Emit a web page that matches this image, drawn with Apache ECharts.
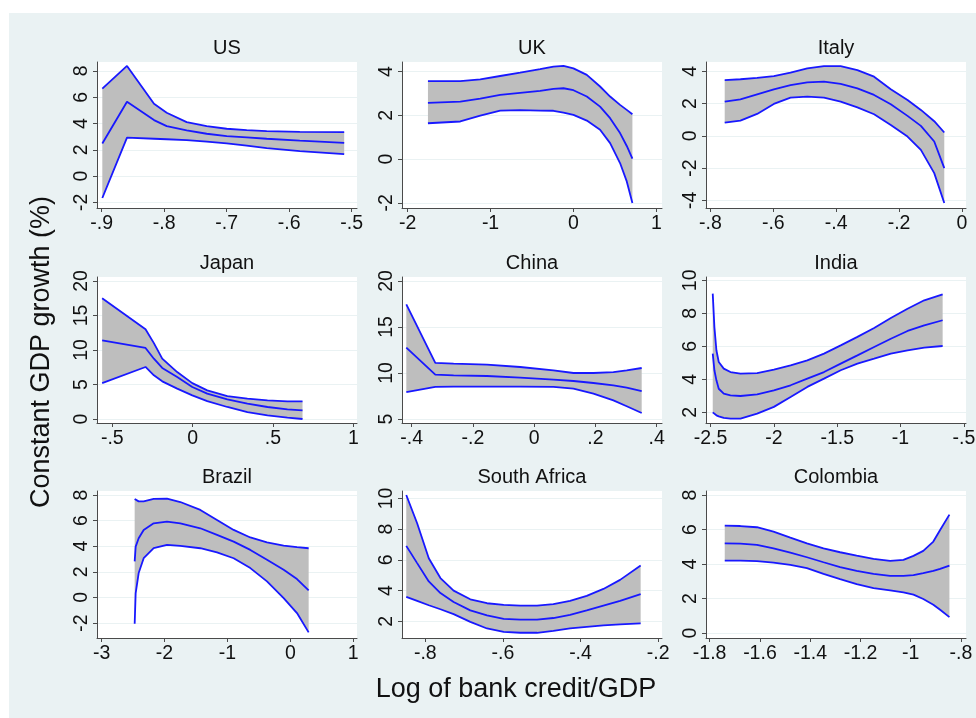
<!DOCTYPE html>
<html>
<head>
<meta charset="utf-8">
<title>Constant GDP growth vs log of bank credit/GDP</title>
<script src="https://cdn.jsdelivr.net/npm/echarts@6/dist/echarts.min.js"></script>
<style>
  html, body { margin: 0; padding: 0; background: #ffffff; }
  #frame { position: absolute; left: 9px; top: 13px; width: 967px; height: 705px; background: #eaf2f3; }
  #chart { position: absolute; left: 0; top: 0; width: 976px; height: 718px; }
</style>
</head>
<body>
<div id="frame"></div>
<div id="chart"></div>
<script>
// ---- Data: local fit (middle) with confidence band (low / high) per country ----
const usX    = [-0.899, -0.8595, -0.8163, -0.796, -0.764, -0.732, -0.70, -0.668, -0.636, -0.583, -0.512];
const usHigh = [6.65, 8.38, 5.5, 4.82, 4.1, 3.8, 3.6, 3.5, 3.42, 3.37, 3.35];
const usMid  = [2.48, 5.65, 4.26, 3.8, 3.47, 3.22, 3.04, 2.94, 2.84, 2.69, 2.53];
const usLow  = [-1.67, 2.92, 2.84, 2.8, 2.74, 2.62, 2.48, 2.31, 2.13, 1.9, 1.67];
const usXTicks = [-0.9, -0.8, -0.7, -0.6, -0.5];
const usYTicks = [-2, 0, 2, 4, 6, 8];

const ukX    = [-1.755, -1.365, -1.124, -0.884, -0.643, -0.402, -0.241, -0.12, 0, 0.161, 0.321, 0.442, 0.562, 0.643, 0.711];
const ukHigh = [3.57, 3.57, 3.65, 3.80, 3.95, 4.11, 4.23, 4.26, 4.15, 3.85, 3.32, 2.86, 2.48, 2.25, 2.05];
const ukMid  = [2.57, 2.63, 2.77, 2.94, 3.03, 3.12, 3.21, 3.24, 3.15, 2.86, 2.4, 1.87, 1.19, 0.6, 0.02];
const ukLow  = [1.64, 1.72, 1.99, 2.22, 2.24, 2.22, 2.21, 2.13, 2.02, 1.76, 1.34, 0.73, -0.18, -1.02, -2.01];
const ukXTicks = [-2, -1, 0, 1];
const ukYTicks = [-2, 0, 2, 4];

const itX    = [-0.7545, -0.7046, -0.6514, -0.5983, -0.5452, -0.492, -0.4389, -0.3858, -0.3326, -0.2795, -0.2264, -0.1732, -0.1307, -0.0882, -0.0563];
const itHigh = [3.46, 3.51, 3.59, 3.71, 3.92, 4.19, 4.33, 4.33, 4.08, 3.67, 2.89, 2.23, 1.61, 0.91, 0.21];
const itMid  = [2.12, 2.27, 2.58, 2.89, 3.15, 3.32, 3.36, 3.22, 2.95, 2.54, 1.96, 1.24, 0.62, -0.35, -2.0];
const itLow  = [0.82, 0.95, 1.36, 1.98, 2.37, 2.43, 2.37, 2.12, 1.77, 1.34, 0.68, -0.04, -0.87, -2.31, -4.16];
const itXTicks = [-0.8, -0.6, -0.4, -0.2, 0];
const itYTicks = [-4, -2, 0, 2, 4];

const jpX    = [-0.563, -0.293, -0.241, -0.189, -0.096, -0.002, 0.091, 0.216, 0.341, 0.466, 0.59, 0.684];
const jpHigh = [17.5, 13.0, 11.0, 8.74, 6.8, 5.2, 4.15, 3.33, 2.95, 2.7, 2.56, 2.56];
const jpMid  = [11.4, 10.3, 8.74, 7.4, 6.09, 4.64, 3.67, 2.85, 2.22, 1.74, 1.4, 1.26];
const jpLow  = [5.2, 7.54, 6.33, 5.46, 4.4, 3.43, 2.6, 1.74, 1.01, 0.53, 0.19, 0.0];
const jpXTicks = [-0.5, 0, 0.5, 1];
const jpYTicks = [0, 5, 10, 15, 20];

const cnX    = [-0.4174, -0.3228, -0.263, -0.1543, -0.0457, 0.063, 0.1283, 0.1935, 0.2587, 0.3022, 0.3511];
const cnHigh = [17.46, 11.09, 11.01, 10.9, 10.65, 10.29, 10.0, 10.0, 10.1, 10.29, 10.54];
const cnMid  = [12.75, 9.82, 9.75, 9.67, 9.49, 9.28, 9.13, 8.91, 8.66, 8.4, 8.04];
const cnLow  = [7.93, 8.48, 8.51, 8.51, 8.51, 8.48, 8.3, 7.75, 7.03, 6.38, 5.65];
const cnXTicks = [-0.4, -0.2, 0, 0.2, 0.4];
const cnYTicks = [5, 10, 15, 20];

const inX    = [-2.4828, -2.4697, -2.4538, -2.4354, -2.3958, -2.343, -2.2639, -2.1319, -2, -1.8681, -1.7361, -1.6042, -1.4723, -1.3404, -1.2084, -1.0765, -0.9446, -0.8127, -0.6675];
const inHigh = [9.19, 7.17, 5.76, 5.05, 4.65, 4.44, 4.34, 4.38, 4.59, 4.85, 5.15, 5.56, 6.06, 6.57, 7.11, 7.72, 8.28, 8.79, 9.15];
const inMid  = [5.56, 4.55, 3.94, 3.43, 3.13, 3.03, 2.99, 3.09, 3.33, 3.64, 4.04, 4.44, 4.95, 5.45, 5.96, 6.46, 6.93, 7.27, 7.58];
const inLow  = [2.0, 1.92, 1.82, 1.76, 1.66, 1.62, 1.62, 1.92, 2.33, 2.93, 3.54, 4.04, 4.55, 4.95, 5.25, 5.56, 5.76, 5.92, 6.02];
const inXTicks = [-2.5, -2, -1.5, -1, -0.5];
const inYTicks = [2, 4, 6, 8, 10];

const brX    = [-2.4742, -2.4583, -2.4106, -2.3311, -2.1722, -1.9603, -1.7483, -1.4305, -1.1656, -0.9007, -0.6358, -0.3709, -0.106, 0.106, 0.2914];
const brHigh = [7.69, 7.6, 7.5, 7.5, 7.69, 7.71, 7.45, 6.83, 6.05, 5.27, 4.68, 4.29, 4.05, 3.92, 3.84];
const brMid  = [2.81, 3.97, 4.62, 5.27, 5.79, 5.92, 5.79, 5.4, 4.88, 4.36, 3.71, 2.94, 2.16, 1.43, 0.55];
const brLow  = [-2.05, 0.34, 1.9, 3.06, 3.84, 4.1, 4.03, 3.84, 3.51, 3.06, 2.29, 1.25, -0.05, -1.22, -2.73];
const brXTicks = [-3, -2, -1, 0, 1];
const brYTicks = [-2, 0, 2, 4, 6, 8];

const saX    = [-0.849, -0.821, -0.791, -0.761, -0.727, -0.684, -0.641, -0.598, -0.555, -0.512, -0.47, -0.427, -0.384, -0.341, -0.298, -0.245];
const saHigh = [10.22, 8.38, 6.11, 4.82, 4.0, 3.44, 3.18, 3.07, 3.03, 3.03, 3.12, 3.33, 3.66, 4.11, 4.7, 5.63];
const saMid  = [6.91, 5.79, 4.6, 3.84, 3.26, 2.72, 2.39, 2.17, 2.11, 2.11, 2.22, 2.43, 2.72, 3.03, 3.33, 3.77];
const saLow  = [3.6, 3.34, 3.05, 2.79, 2.47, 1.97, 1.54, 1.32, 1.26, 1.26, 1.39, 1.54, 1.65, 1.74, 1.8, 1.87];
const saXTicks = [-0.8, -0.6, -0.4, -0.2];
const saYTicks = [2, 4, 6, 8, 10];

const coX    = [-1.74, -1.678, -1.612, -1.546, -1.479, -1.413, -1.347, -1.281, -1.215, -1.148, -1.082, -1.029, -0.989, -0.95, -0.91, -0.883, -0.846];
const coHigh = [6.22, 6.2, 6.13, 5.88, 5.53, 5.2, 4.91, 4.68, 4.49, 4.3, 4.18, 4.24, 4.47, 4.76, 5.3, 5.97, 6.86];
const coMid  = [5.2, 5.18, 5.11, 4.91, 4.66, 4.39, 4.1, 3.82, 3.6, 3.43, 3.31, 3.31, 3.35, 3.47, 3.6, 3.72, 3.91];
const coLow  = [4.2, 4.2, 4.16, 4.08, 3.95, 3.76, 3.43, 3.12, 2.83, 2.6, 2.47, 2.35, 2.22, 1.97, 1.64, 1.35, 0.92];
const coXTicks = [-1.8, -1.6, -1.4, -1.2, -1, -0.8];
const coYTicks = [0, 2, 4, 6, 8];

const yAxisTitle = 'Constant GDP growth (%)';
const xAxisTitle = 'Log of bank credit/GDP';

// ---- Panels (axis extents include the plot-region margins) ----
const panels = [
  { name: 'US',           x: usX, lo: usLow, mid: usMid, hi: usHigh, xt: usXTicks, yt: usYTicks, xr: [-0.9075, -0.4915], yr: [-2.43, 8.68] },
  { name: 'UK',           x: ukX, lo: ukLow, mid: ukMid, hi: ukHigh, xt: ukXTicks, yt: ukYTicks, xr: [-2.068, 1.068],    yr: [-2.236, 4.44] },
  { name: 'Italy',        x: itX, lo: itLow, mid: itMid, hi: itHigh, xt: itXTicks, yt: itYTicks, xr: [-0.814, 0.0128],   yr: [-4.47, 4.58] },
  { name: 'Japan',        x: jpX, lo: jpLow, mid: jpMid, hi: jpHigh, xt: jpXTicks, yt: jpYTicks, xr: [-0.595, 1.023],    yr: [-0.58, 20.58] },
  { name: 'China',        x: cnX, lo: cnLow, mid: cnMid, hi: cnHigh, xt: cnXTicks, yt: cnYTicks, xr: [-0.4315, 0.4174],  yr: [4.565, 20.43] },
  { name: 'India',        x: inX, lo: inLow, mid: inMid, hi: inHigh, xt: inXTicks, yt: inYTicks, xr: [-2.536, -0.483],   yr: [1.354, 10.2] },
  { name: 'Brazil',       x: brX, lo: brLow, mid: brMid, hi: brHigh, xt: brXTicks, yt: brYTicks, xr: [-3.073, 1.06],     yr: [-3.17, 8.31] },
  { name: 'South Africa', x: saX, lo: saLow, mid: saMid, hi: saHigh, xt: saXTicks, yt: saYTicks, xr: [-0.86, -0.19],     yr: [0.92, 10.48] },
  { name: 'Colombia',     x: coX, lo: coLow, mid: coMid, hi: coHigh, xt: coXTicks, yt: coYTicks, xr: [-1.8146, -0.78],  yr: [-0.29, 8.23] }
];

// ---- Layout & style ----
const colLeft = [97, 402, 706];
const colWidth = 260;
const rowTop = [62, 277, 491];
const rowHeight = [146, 146, 147];
const FONT = "'Liberation Sans', Arial, Helvetica, sans-serif";
const AXIS_COLOR = '#4a4a4a';
const TEXT_COLOR = '#111111';
const GRID_COLOR = '#eaf2f3';
const BAND_FILL = '#bebebe';
const LINE_BLUE = '#1818ff';

// Stata-style numbers: drop the leading zero ("-.5", ".2")
function fmt(v) {
  const s = String(Math.round(v * 100) / 100);
  return s.replace(/^(-?)0\./, '$1.');
}

const grids = [], xAxes = [], yAxes = [], series = [], graphics = [];

panels.forEach((p, i) => {
  const c = i % 3, r = Math.floor(i / 3);
  grids.push({
    left: colLeft[c], top: rowTop[r], width: colWidth, height: rowHeight[r],
    show: true, backgroundColor: '#ffffff', borderWidth: 0,
    containLabel: false, outerBoundsMode: 'none'
  });
  xAxes.push({
    type: 'value', gridIndex: i, min: p.xr[0], max: p.xr[1],
    axisLine: { show: true, onZero: false, lineStyle: { color: AXIS_COLOR, width: 1 } },
    axisTick: { show: true, customValues: p.xt, length: 4, lineStyle: { color: AXIS_COLOR, width: 1 } },
    axisLabel: { show: true, customValues: p.xt, formatter: fmt, margin: 6,
                 fontSize: 19.5, fontFamily: FONT, color: TEXT_COLOR, hideOverlap: false },
    splitLine: { show: false }
  });
  yAxes.push({
    type: 'value', gridIndex: i, min: p.yr[0], max: p.yr[1],
    axisLine: { show: true, onZero: false, lineStyle: { color: AXIS_COLOR, width: 1 } },
    axisTick: { show: true, customValues: p.yt, length: 4, lineStyle: { color: AXIS_COLOR, width: 1 } },
    axisLabel: { show: true, customValues: p.yt, formatter: fmt, rotate: 90, margin: 5,
                 fontSize: 19.5, fontFamily: FONT, color: TEXT_COLOR, hideOverlap: false },
    splitLine: { show: true, lineStyle: { color: GRID_COLOR, width: 1 } }
  });

  // confidence band: polygon along the upper bound and back along the lower bound
  series.push({
    type: 'custom', xAxisIndex: i, yAxisIndex: i, silent: true, z: 1,
    data: [[p.x[0], p.lo[0]]],
    renderItem: (params, api) => {
      const top = p.x.map((x, k) => api.coord([x, p.hi[k]]));
      const bottom = p.x.map((x, k) => api.coord([x, p.lo[k]])).reverse();
      return { type: 'polygon', shape: { points: top.concat(bottom) }, style: { fill: BAND_FILL } };
    }
  });
  [p.lo, p.mid, p.hi].forEach(vals => {
    series.push({
      type: 'line', xAxisIndex: i, yAxisIndex: i, silent: true, z: 2,
      data: p.x.map((x, k) => [x, vals[k]]),
      showSymbol: false, symbol: 'none', smooth: false,
      lineStyle: { color: LINE_BLUE, width: 1.8 }
    });
  });

  graphics.push({
    type: 'text', x: colLeft[c] + colWidth / 2, y: rowTop[r] - 14,
    style: { text: p.name, font: '20px ' + FONT, fill: TEXT_COLOR,
             align: 'center', verticalAlign: 'middle', textAlign: 'center', textVerticalAlign: 'middle' }
  });
});

graphics.push({
  type: 'text', x: 42, y: 352, rotation: Math.PI / 2,
  style: { text: yAxisTitle, font: '27px ' + FONT, fill: TEXT_COLOR,
           align: 'center', verticalAlign: 'middle', textAlign: 'center', textVerticalAlign: 'middle' }
});
graphics.push({
  type: 'text', x: 516, y: 690,
  style: { text: xAxisTitle, font: '27px ' + FONT, fill: TEXT_COLOR,
           align: 'center', verticalAlign: 'middle', textAlign: 'center', textVerticalAlign: 'middle' }
});

const chart = echarts.init(document.getElementById('chart'), null, { renderer: 'canvas' });
chart.setOption({
  backgroundColor: 'transparent',
  animation: false,
  grid: grids,
  xAxis: xAxes,
  yAxis: yAxes,
  series: series,
  graphic: { elements: graphics }
});
</script>
</body>
</html>
